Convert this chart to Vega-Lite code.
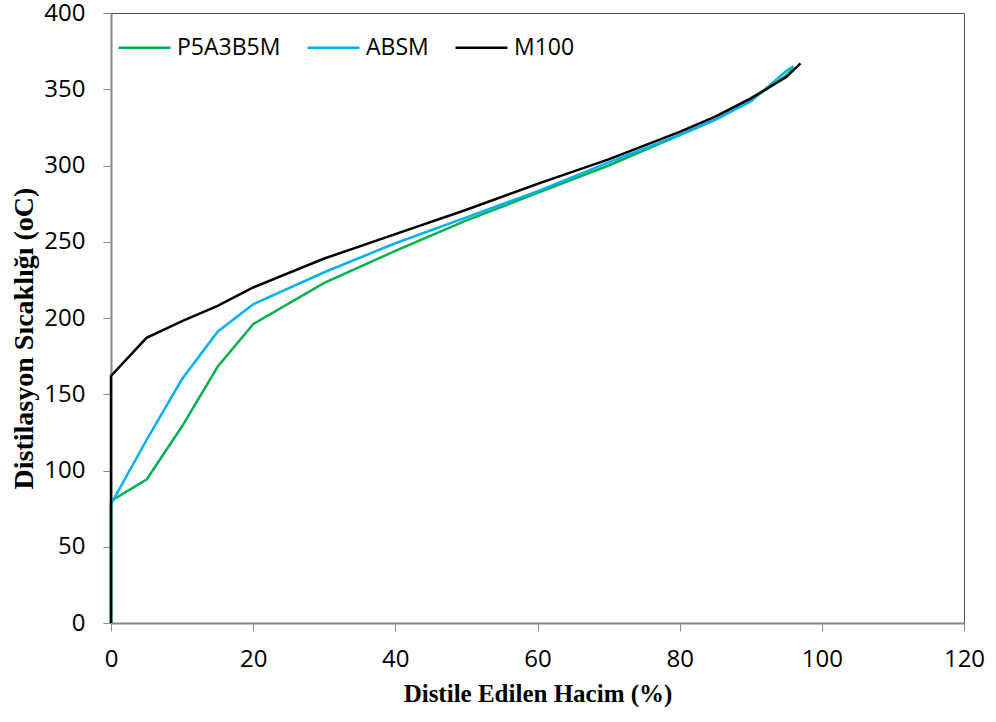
{
  "$schema": "https://vega.github.io/schema/vega-lite/v6.json",
  "width": 853,
  "height": 610,
  "autosize": "none",
  "padding": {"left": 111, "top": 13, "right": 32, "bottom": 99},
  "background": "white",
  "config": {
    "view": {"stroke": "#555", "strokeWidth": 1},
    "axis": {
      "grid": false,
      "domainColor": "#888",
      "domainWidth": 2,
      "tickColor": "#888",
      "tickSize": 8,
      "labelFont": "Open Sans",
      "labelFontSize": 24,
      "labelColor": "#000",
      "labelFlush": false,
      "titleFont": "Liberation Serif",
      "titleFontWeight": "bold",
      "titleColor": "#000"
    }
  },
  "data": {
    "values": [
      {"s": "P5A3B5M", "x": 0, "y": 0}, {"s": "P5A3B5M", "x": 0, "y": 80}, {"s": "P5A3B5M", "x": 5, "y": 94},
      {"s": "P5A3B5M", "x": 10, "y": 129}, {"s": "P5A3B5M", "x": 15, "y": 168}, {"s": "P5A3B5M", "x": 20, "y": 196},
      {"s": "P5A3B5M", "x": 30, "y": 223}, {"s": "P5A3B5M", "x": 40, "y": 244}, {"s": "P5A3B5M", "x": 50, "y": 264},
      {"s": "P5A3B5M", "x": 60, "y": 282}, {"s": "P5A3B5M", "x": 70, "y": 300}, {"s": "P5A3B5M", "x": 80, "y": 320},
      {"s": "P5A3B5M", "x": 85, "y": 330}, {"s": "P5A3B5M", "x": 90, "y": 343}, {"s": "P5A3B5M", "x": 95, "y": 359},
      {"s": "P5A3B5M", "x": 96, "y": 364},
      {"s": "ABSM", "x": 0, "y": 0}, {"s": "ABSM", "x": 0, "y": 78}, {"s": "ABSM", "x": 5, "y": 120},
      {"s": "ABSM", "x": 10, "y": 160}, {"s": "ABSM", "x": 15, "y": 191}, {"s": "ABSM", "x": 20, "y": 209},
      {"s": "ABSM", "x": 30, "y": 230}, {"s": "ABSM", "x": 40, "y": 249}, {"s": "ABSM", "x": 50, "y": 266},
      {"s": "ABSM", "x": 60, "y": 283}, {"s": "ABSM", "x": 70, "y": 302}, {"s": "ABSM", "x": 80, "y": 320},
      {"s": "ABSM", "x": 85, "y": 330}, {"s": "ABSM", "x": 90, "y": 342}, {"s": "ABSM", "x": 95, "y": 362},
      {"s": "ABSM", "x": 96, "y": 365},
      {"s": "M100", "x": 0, "y": 0}, {"s": "M100", "x": 0, "y": 162}, {"s": "M100", "x": 5, "y": 187},
      {"s": "M100", "x": 10, "y": 198}, {"s": "M100", "x": 15, "y": 208}, {"s": "M100", "x": 20, "y": 220},
      {"s": "M100", "x": 30, "y": 239}, {"s": "M100", "x": 40, "y": 255}, {"s": "M100", "x": 50, "y": 271},
      {"s": "M100", "x": 60, "y": 288}, {"s": "M100", "x": 70, "y": 304}, {"s": "M100", "x": 80, "y": 322},
      {"s": "M100", "x": 85, "y": 332}, {"s": "M100", "x": 90, "y": 344}, {"s": "M100", "x": 95, "y": 358},
      {"s": "M100", "x": 97, "y": 367}
    ]
  },
  "mark": {"type": "line", "strokeWidth": 2.5},
  "encoding": {
    "x": {
      "field": "x", "type": "quantitative",
      "scale": {"domain": [0, 120], "nice": false},
      "axis": {"values": [0, 20, 40, 60, 80, 100, 120], "title": "Distile Edilen Hacim (%)", "labelPadding": 16, "titleY": 58, "titleFontSize": 25}
    },
    "y": {
      "field": "y", "type": "quantitative",
      "scale": {"domain": [0, 400], "nice": false},
      "axis": {"values": [0, 50, 100, 150, 200, 250, 300, 350, 400], "title": "Distilasyon Sıcaklığı (oC)", "labelPadding": 18, "titleX": -73, "titleY": 325, "titleFontSize": 28}
    },
    "color": {
      "field": "s", "type": "nominal",
      "scale": {"domain": ["P5A3B5M", "ABSM", "M100"], "range": ["#00b050", "#00b0f0", "#000000"]},
      "legend": {
        "title": null,
        "orient": "none",
        "legendX": 6,
        "legendY": 7,
        "direction": "horizontal",
        "symbolType": "stroke",
        "symbolSize": 2700,
        "symbolStrokeWidth": 2.5,
        "labelFont": "Open Sans",
        "labelFontSize": 23,
        "labelColor": "#000",
        "labelOffset": 5,
        "columnPadding": 21
      }
    },
    "order": {"field": "s"}
  }
}
